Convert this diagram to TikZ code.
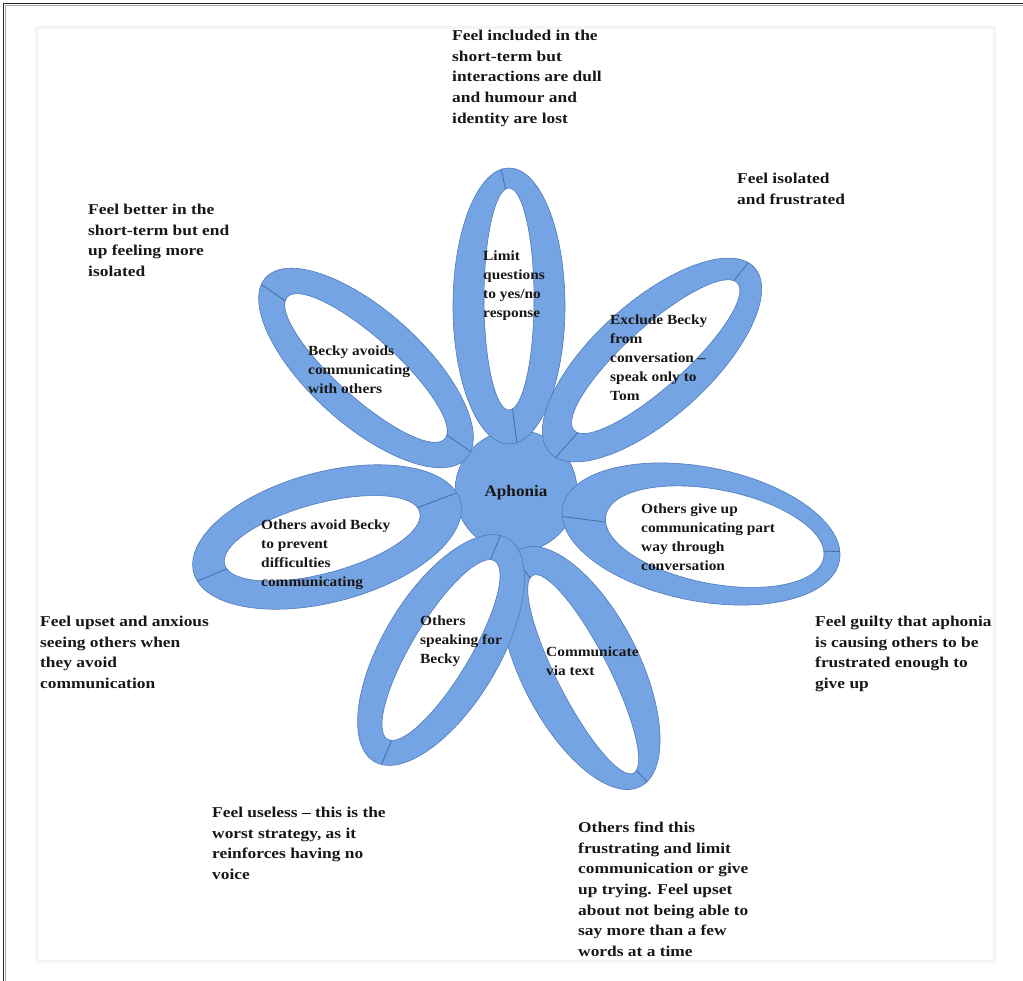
\documentclass[tikz,border=0pt]{standalone}
\usepackage{fontspec}
\setmainfont{Liberation Serif}
\newfontfamily\outerfont[FakeStretch=1.16]{Liberation Serif}
\newfontfamily\innerfont[FakeStretch=1.1]{Liberation Serif}
\newfontfamily\centrefont[FakeStretch=1.07]{Liberation Serif}
\begin{document}
\begin{tikzpicture}[x=1pt,y=1pt,
  petalfill/.style={fill={rgb,255:red,116;green,164;blue,227}},
  petaledge/.style={draw={rgb,255:red,80;green,122;blue,186},line width=0.6pt},
  seam/.style={draw={rgb,255:red,70;green,110;blue,170},line width=0.8pt},
  outertext/.style={anchor=north west,inner sep=0pt,align=left,text={rgb,255:red,25;green,22;blue,20},font=\outerfont\bfseries\fontsize{15}{20.6}\selectfont},
  innertext/.style={anchor=north west,inner sep=0pt,align=left,text={rgb,255:red,25;green,22;blue,20},font=\innerfont\bfseries\fontsize{14}{18.8}\selectfont}]
\useasboundingbox (0,0) rectangle (1023,-981);
% frame
\draw[line width=1.4pt,black!85] (3.5,-981) -- (3.5,-3.5) -- (1023,-3.5);
\draw[line width=0.8pt,black!35] (5.5,-981) -- (5.5,-5.5) -- (1023,-5.5);
\draw[line width=3pt,black!4] (36,-28) rectangle (994,-961);
% centre
\node[circle,minimum size=122pt,inner sep=0pt,fill={rgb,255:red,116;green,164;blue,227},draw={rgb,255:red,80;green,122;blue,186},line width=0.6pt] (c) at (516,-491) {};
\newcommand{\petal}[8]{%
 \begin{scope}[shift={(#1,-#2)},rotate=#3]
  \fill[petalfill,even odd rule] (0,0) ellipse [x radius=#4,y radius=#5] (#6,0) ellipse [x radius=#7,y radius=#8];
  \draw[petaledge] (0,0) ellipse [x radius=#4,y radius=#5] (#6,0) ellipse [x radius=#7,y radius=#8];
  \draw[seam] ({#4*cos(8)},{#5*sin(8)}) -- ({#6+#7*cos(8)},{#8*sin(8)});
  \draw[seam] ({#4*cos(188)},{#5*sin(188)}) -- ({#6+#7*cos(188)},{#8*sin(188)});
 \end{scope}}
\petal{509}{306}{90}{138}{56}{7}{111}{25}
\petal{652}{360}{42}{138}{58}{5}{110}{30}
\petal{701}{534}{-11}{141}{67}{14}{111}{47}
\petal{580}{668}{-63}{133}{59}{7}{111}{26}
\petal{441}{650}{-121}{130}{58}{0}{104}{29}
\petal{327}{537}{195}{138}{65}{5}{101}{35}
\petal{366}{368}{138}{135}{57}{0}{106}{30}
\node[font=\centrefont\bfseries\fontsize{16}{19}\selectfont,text={rgb,255:red,25;green,22;blue,20}] (aph) at (516,-493) {Aphonia};
% inner texts
\node[innertext] (i1) at (483,-251) {Limit\\questions\\to yes/no\\response};
\node[innertext] (i2) at (610,-315) {Exclude Becky\\from\\conversation –\\speak only to\\Tom};
\node[innertext] (i3) at (641,-504) {Others give up\\communicating part\\way through\\conversation};
\node[innertext] (i4) at (546,-647) {Communicate\\via text};
\node[innertext] (i5) at (420,-616) {Others\\speaking for\\Becky};
\node[innertext] (i6) at (261,-520) {Others avoid Becky\\to prevent\\difficulties\\communicating};
\node[innertext] (i7) at (308,-346) {Becky avoids\\communicating\\with others};
% outer texts
\node[outertext] (o1) at (452,-30) {Feel included in the\\short-term but\\interactions are dull\\and humour and\\identity are lost};
\node[outertext] (o2) at (737,-173) {Feel isolated\\and frustrated};
\node[outertext] (o3) at (815,-616) {Feel guilty that aphonia\\is causing others to be\\frustrated enough to\\give up};
\node[outertext] (o4) at (578,-822) {Others find this\\frustrating and limit\\communication or give\\up trying. Feel upset\\about not being able to\\say more than a few\\words at a time};
\node[outertext] (o5) at (212,-807) {Feel useless – this is the\\worst strategy, as it\\reinforces having no\\voice};
\node[outertext] (o6) at (40,-616) {Feel upset and anxious\\seeing others when\\they avoid\\communication};
\node[outertext] (o7) at (88,-204) {Feel better in the\\short-term but end\\up feeling more\\isolated};
\end{tikzpicture}
\end{document}
